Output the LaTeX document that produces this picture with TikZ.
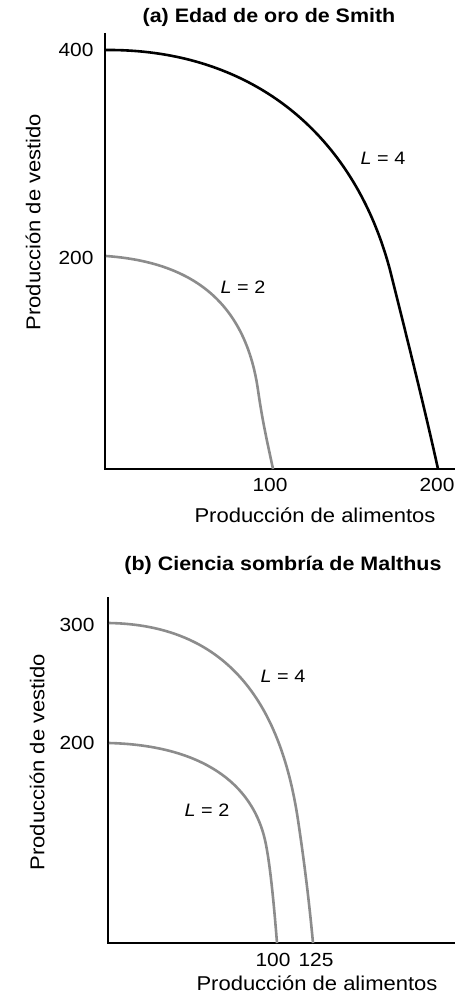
\documentclass[tikz,border=0pt]{standalone}
\usepackage{fontspec}
\setmainfont[FakeStretch=1.1]{Liberation Sans}
\begin{document}
\begin{tikzpicture}[x=1pt,y=-1pt,
  axis/.style={line width=1.6pt},
  darkcurve/.style={line width=2.6pt, black},
  graycurve/.style={line width=2.6pt, black!45},
  ttl/.style={font=\fontsize{19.5}{22}\selectfont\bfseries},
  lbl/.style={font=\fontsize{20}{22}\selectfont},
  num/.style={font=\fontsize{19}{20}\selectfont},
  lab/.style={font=\fontsize{18}{20}\selectfont}]
\useasboundingbox (0,0) rectangle (455,995);
% ---- panel (a)
\node[ttl] (ta) at (269,17) {(a) Edad de oro de Smith};
\coordinate (ya) at (105,33);
\coordinate (oa) at (105,469);
\coordinate (xa) at (455,469);
\draw[axis] (ya) -- (oa) -- (xa);
\draw[graycurve] (106,256) .. controls (190,262) and (245,300) .. (258,390)
  .. controls (263,425) and (268,445) .. (273,469);
\draw[darkcurve] (106,50) .. controls (245,49) and (352,127) .. (390,270)
  .. controls (410,350) and (425,410) .. (438,469);
\node[num, anchor=east] (a400) at (97,50) {400};
\node[num, anchor=east] (a200) at (97,258) {200};
\node[num] (a100) at (270,485) {100};
\node[num] (a200x) at (437,485) {200};
\node[lab] (aL4) at (383,158) {\textit{L} = 4};
\node[lab] (aL2) at (243,287) {\textit{L} = 2};
\node[lbl, rotate=90] (ayl) at (33,222) {Producción de vestido};
\node[lbl] (axl) at (315,515) {Producción de alimentos};
% ---- panel (b)
\node[ttl] (tb) at (283,565) {(b) Ciencia sombría de Malthus};
\coordinate (yb) at (108,597);
\coordinate (ob) at (108,943);
\coordinate (xb) at (455,943);
\draw[axis] (yb) -- (ob) -- (xb);
\draw[graycurve] (109,623) .. controls (225,625) and (280,700) .. (298,820)
  .. controls (304,860) and (309,900) .. (313,943);
\draw[graycurve] (109,743) .. controls (190,745) and (250,775) .. (265,840)
  .. controls (270,862) and (274,905) .. (277,943);
\node[num, anchor=east] (b300) at (98,625) {300};
\node[num, anchor=east] (b200) at (98,743) {200};
\node[num] (b100) at (273,960) {100};
\node[num] (b125) at (316,960) {125};
\node[lab] (bL4) at (283,676) {\textit{L} = 4};
\node[lab] (bL2) at (207,810) {\textit{L} = 2};
\node[lbl, rotate=90] (byl) at (37,762) {Producción de vestido};
\node[lbl] (bxl) at (317,983) {Producción de alimentos};
\end{tikzpicture}
\end{document}
